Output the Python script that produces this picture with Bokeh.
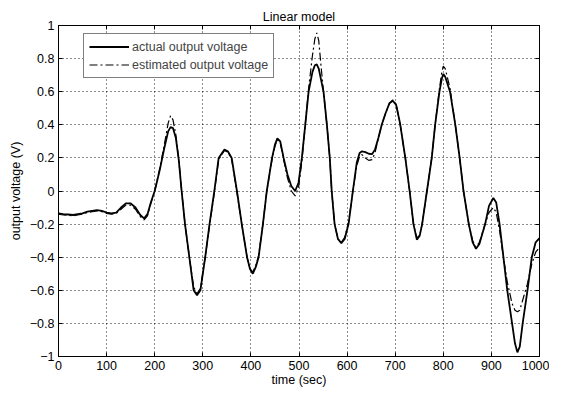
from bokeh.plotting import figure
from bokeh.models import (Range1d, FixedTicker, LinearAxis, Legend, LegendItem, ColumnDataSource,
                          CustomJSTickFormatter)
from bokeh.embed import file_html
from bokeh.resources import INLINE

# ---- data ----
time_s = [0, 10, 20, 30, 40, 50, 60, 70, 80, 90, 100, 110, 120, 130, 140, 150, 160, 170, 178, 185,
          192, 200, 210, 220, 228, 233, 238, 244, 250, 256, 263, 272, 281, 288, 295, 305, 314, 324,
          333, 345, 352, 360, 371, 381, 392, 398, 404, 410, 416, 425, 433, 444, 450, 455, 461, 468,
          476, 484, 492, 499, 506, 513, 520, 528, 533, 537, 541, 546, 551, 558, 564, 568, 574, 581,
          588, 595, 603, 612, 620, 626, 631, 638, 645, 652, 658, 665, 672, 680, 688, 695, 702, 710,
          721, 730, 738, 745, 751, 756, 766, 776, 783, 792, 797, 800, 804, 814, 825, 834, 842, 853,
          861, 868, 875, 887, 895, 904, 910, 917, 925, 933, 943, 949, 954, 959, 965, 975, 984, 992,
          1000]

actual_v = [-0.135, -0.14, -0.142, -0.145, -0.14, -0.135, -0.125, -0.12, -0.115, -0.12, -0.13, -0.135,
            -0.13, -0.10, -0.075, -0.075, -0.10, -0.145, -0.165, -0.14, -0.07, 0.0, 0.12, 0.26, 0.36,
            0.386, 0.38, 0.32, 0.19, 0.0, -0.2, -0.4, -0.6, -0.63, -0.6, -0.4, -0.2, 0.0, 0.2, 0.25,
            0.24, 0.2, 0.0, -0.2, -0.4, -0.47, -0.5, -0.46, -0.4, -0.2, 0.0, 0.2, 0.28, 0.318, 0.3,
            0.2, 0.1, 0.03, 0.0, 0.05, 0.2, 0.4, 0.6, 0.72, 0.76, 0.765, 0.74, 0.67, 0.6, 0.4, 0.2,
            0.0, -0.2, -0.29, -0.315, -0.29, -0.2, 0.0, 0.17, 0.23, 0.24, 0.235, 0.225, 0.223, 0.25,
            0.32, 0.4, 0.47, 0.53, 0.545, 0.52, 0.41, 0.2, 0.0, -0.2, -0.294, -0.27, -0.2, 0.0, 0.2,
            0.4, 0.6, 0.68, 0.707, 0.69, 0.6, 0.4, 0.2, 0.0, -0.2, -0.31, -0.349, -0.32, -0.2, -0.09,
            -0.042, -0.07, -0.2, -0.4, -0.6, -0.8, -0.92, -0.975, -0.94, -0.8, -0.6, -0.4, -0.31,
            -0.285]

estimated_v = [-0.14, -0.145, -0.147, -0.15, -0.145, -0.14, -0.13, -0.125, -0.12, -0.125, -0.135, -0.14,
               -0.135, -0.11, -0.085, -0.085, -0.11, -0.155, -0.175, -0.15, -0.075, 0.0, 0.13, 0.28,
               0.41, 0.455, 0.43, 0.34, 0.19, 0.0, -0.2, -0.4, -0.58, -0.62, -0.59, -0.4, -0.21, -0.01,
               0.19, 0.245, 0.235, 0.19, -0.01, -0.2, -0.4, -0.47, -0.49, -0.45, -0.39, -0.2, 0.0, 0.19,
               0.27, 0.31, 0.29, 0.19, 0.08, 0.0, -0.03, 0.02, 0.18, 0.4, 0.62, 0.82, 0.92, 0.955, 0.91,
               0.75, 0.6, 0.4, 0.2, 0.0, -0.2, -0.29, -0.31, -0.28, -0.19, 0.0, 0.15, 0.21, 0.22, 0.2,
               0.185, 0.19, 0.23, 0.32, 0.4, 0.47, 0.53, 0.55, 0.525, 0.41, 0.2, 0.0, -0.2, -0.285,
               -0.265, -0.2, 0.0, 0.2, 0.4, 0.62, 0.72, 0.755, 0.74, 0.62, 0.4, 0.2, 0.0, -0.2, -0.3,
               -0.34, -0.31, -0.2, -0.13, -0.1, -0.13, -0.24, -0.4, -0.55, -0.68, -0.72, -0.73, -0.72,
               -0.66, -0.56, -0.44, -0.37, -0.34]

x_ticks = [0, 100, 200, 300, 400, 500, 600, 700, 800, 900, 1000]
y_ticks = [-1, -0.8, -0.6, -0.4, -0.2, 0, 0.2, 0.4, 0.6, 0.8, 1]
y_tick_labels = ["\u22121", "\u22120.8", "\u22120.6", "\u22120.4", "\u22120.2", "0",
                 "0.2", "0.4", "0.6", "0.8", "1"]

title_text = "Linear model"
x_label = "time (sec)"
y_label = "output voltage (V)"
series_names = ["actual output voltage", "estimated output voltage"]

FONT = "Liberation Sans"
FS = "12.5px"

src = ColumnDataSource(dict(t=time_s, a=actual_v, e=estimated_v))

p = figure(width=549, height=389, output_backend="svg", toolbar_location=None,
           x_range=Range1d(0, 1000), y_range=Range1d(-1, 1),
           min_border_left=58, min_border_right=10, min_border_top=25, min_border_bottom=33)

p.title.text = title_text
p.title.align = "center"
p.title.text_font = FONT
p.title.text_font_style = "normal"
p.title.text_font_size = FS
p.title.text_color = "black"
p.title.standoff = 3
p.title.offset = 0

p.outline_line_color = "black"
p.outline_line_width = 1
p.background_fill_color = "white"
p.border_fill_color = "white"

def style_axis(ax, show_labels=True):
    ax.axis_line_color = "black"
    ax.major_tick_line_color = "black"
    ax.major_tick_in = 4
    ax.major_tick_out = 0
    ax.minor_tick_line_color = None
    ax.major_label_text_font = FONT
    ax.major_label_text_font_size = FS
    ax.major_label_text_color = "black"
    ax.major_label_standoff = 4 if show_labels else 0
    ax.axis_label_text_font = FONT
    ax.axis_label_text_font_size = FS
    ax.axis_label_text_font_style = "normal"
    ax.axis_label_text_color = "black"

xt = FixedTicker(ticks=x_ticks)
yt = FixedTicker(ticks=y_ticks)

p.xaxis.ticker = xt
p.yaxis.ticker = yt
style_axis(p.xaxis[0])
style_axis(p.yaxis[0])
p.xaxis.axis_label = x_label
p.yaxis.axis_label = y_label
p.xaxis.axis_label_standoff = 0
p.yaxis.axis_label_standoff = 4
p.yaxis.major_label_overrides = {v: s for v, s in zip(y_ticks, y_tick_labels)}

blank = CustomJSTickFormatter(code="return ''")
top_ax = LinearAxis(ticker=xt, formatter=blank)
style_axis(top_ax, False)
p.add_layout(top_ax, "above")
right_ax = LinearAxis(ticker=yt, formatter=blank)
style_axis(right_ax, False)
p.add_layout(right_ax, "right")

for g in (p.xgrid[0], p.ygrid[0]):
    g.grid_line_color = "black"
    g.grid_line_dash = "1 3"
    g.grid_line_width = 1
    g.grid_line_alpha = 0.9
p.xgrid.ticker = xt
p.ygrid.ticker = yt

r_est = p.line("t", "e", source=src, line_color="black", line_width=1.2, line_dash="8 3 2 3")
r_act = p.line("t", "a", source=src, line_color="black", line_width=1.8)

legend = Legend(items=[LegendItem(label=series_names[0], renderers=[r_act]),
                       LegendItem(label=series_names[1], renderers=[r_est])],
                location=(25, 278))
legend.border_line_color = "black"
legend.border_line_width = 1
legend.background_fill_color = "white"
legend.background_fill_alpha = 1
legend.label_text_font = FONT
legend.label_text_font_size = FS
legend.glyph_width = 40
legend.glyph_height = 15
legend.label_height = 15
legend.label_standoff = 3
legend.spacing = 3
legend.padding = 5
legend.margin = 0
p.add_layout(legend, "center")

open("out.html", "w").write(file_html(p, INLINE))
